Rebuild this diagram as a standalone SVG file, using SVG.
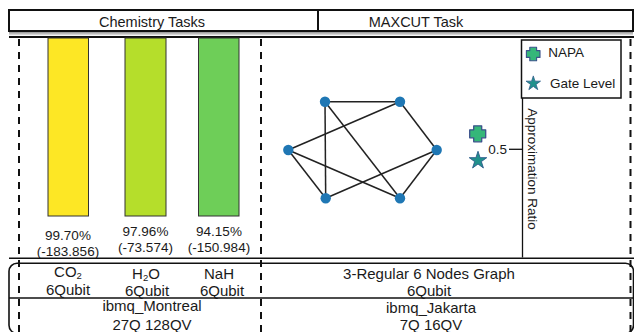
<svg xmlns="http://www.w3.org/2000/svg" xmlns:xlink="http://www.w3.org/1999/xlink" width="634" height="332" viewBox="0 0 634 332">
<style>
text{font-family:"Liberation Sans",Arial,sans-serif;fill:#1a1a1a}
.hd{font-size:14.5px;text-anchor:middle}
.lb{font-size:13.5px;text-anchor:middle}
.bt{font-size:15px;text-anchor:middle}
.frame{fill:none;stroke:#111;stroke-width:1.6}
.dash{stroke:#111;stroke-width:2;stroke-dasharray:7 6;fill:none}
.bar{stroke:#333;stroke-width:1}
.edge{stroke:#222;stroke-width:1.5}
.node{fill:#1f77b4}
.cross{fill:#35b779;stroke:#3b528b;stroke-width:1.3;stroke-linejoin:round}
.star{fill:#21918c;stroke:#2c5a8a;stroke-width:1;stroke-linejoin:round}
</style>
<defs>
<path id="plus" d="M-4,-8H4V-4H8V4H4V8H-4V4H-8V-4H-4Z"/>
<linearGradient id="shadow" x1="0" y1="0" x2="0" y2="1">
<stop offset="0" stop-color="#888"/>
<stop offset="1" stop-color="#eee"/>
</linearGradient>
</defs>
<rect width="634" height="332" fill="#fff"/>

<g id="header">
<rect x="9" y="31.5" width="624" height="4" fill="url(#shadow)"/>
<rect x="9" y="10" width="624" height="21" fill="#fff" stroke="#111" stroke-width="2"/>
<line x1="318" y1="10" x2="318" y2="31" stroke="#111" stroke-width="2"/>
<text class="hd" x="152" y="26.5">Chemistry Tasks</text>
<text class="hd" x="416" y="26.5">MAXCUT Task</text>
<line x1="9" y1="37" x2="634" y2="37" stroke="#111" stroke-width="2"/>
</g>

<g id="bars">
<rect class="bar" x="48" y="38" width="40.5" height="178" fill="#fde725"/>
<rect class="bar" x="125" y="38" width="41" height="178" fill="#b5de2b"/>
<rect class="bar" x="198.5" y="38" width="40.5" height="178" fill="#6ece58"/>
<text class="lb" x="68" y="240">99.70%</text>
<text class="lb" x="68" y="256">(-183.856)</text>
<text class="lb" x="145.5" y="236">97.96%</text>
<text class="lb" x="145.5" y="252">(-73.574)</text>
<text class="lb" x="219" y="236">94.15%</text>
<text class="lb" x="219" y="252">(-150.984)</text>
</g>

<g id="graph">
<g id="connectors">
<line class="edge" x1="325" y1="101.7" x2="400" y2="101.7"/>
<line class="edge" x1="325" y1="101.7" x2="325.7" y2="198.3"/>
<line class="edge" x1="325" y1="101.7" x2="400" y2="198.3"/>
<line class="edge" x1="400" y1="101.7" x2="288.3" y2="150"/>
<line class="edge" x1="400" y1="101.7" x2="436.7" y2="150"/>
<line class="edge" x1="288.3" y1="150" x2="325.7" y2="198.3"/>
<line class="edge" x1="288.3" y1="150" x2="400" y2="198.3"/>
<line class="edge" x1="436.7" y1="150" x2="325.7" y2="198.3"/>
<line class="edge" x1="436.7" y1="150" x2="400" y2="198.3"/>
</g>
<g id="n1"><circle class="node" cx="325" cy="101.7" r="5.2"/></g>
<g id="n2"><circle class="node" cx="400" cy="101.7" r="5.2"/></g>
<g id="n3"><circle class="node" cx="288.3" cy="150" r="5.2"/></g>
<g id="n4"><circle class="node" cx="436.7" cy="150" r="5.2"/></g>
<g id="n5"><circle class="node" cx="325.7" cy="198.3" r="5.2"/></g>
<g id="n6"><circle class="node" cx="400" cy="198.3" r="5.2"/></g>
</g>

<g id="plot">
<use xlink:href="#plus" href="#plus" class="cross" transform="translate(477.7,133.8)"/>
<path class="star" transform="translate(478,160.5) scale(0.92)" d="M0,-10L2.245,-3.09L9.51,-3.09L3.63,1.18L5.88,8.09L0,3.82L-5.88,8.09L-3.63,1.18L-9.51,-3.09L-2.245,-3.09Z"/>
<line x1="522.5" y1="98" x2="522.5" y2="257.5" stroke="#111" stroke-width="1.3"/>
<line x1="509" y1="149.3" x2="522.5" y2="149.3" stroke="#111" stroke-width="1.3"/>
<text x="507" y="154" font-size="13.5" text-anchor="end">0.5</text>
<text x="527.5" y="169" font-size="13.5" text-anchor="middle" transform="rotate(90 527.5 169)">Approximation Ratio</text>
</g>

<g id="legend">
<rect x="521.5" y="40" width="99.5" height="58" fill="#fff" stroke="#111" stroke-width="1.5"/>
<use xlink:href="#plus" href="#plus" class="cross" transform="translate(533.2,54) scale(0.85)"/>
<text x="548.3" y="56.5" font-size="13.5">NAPA</text>
<path class="star" transform="translate(533.3,83.5) scale(0.76)" d="M0,-10L2.245,-3.09L9.51,-3.09L3.63,1.18L5.88,8.09L0,3.82L-5.88,8.09L-3.63,1.18L-9.51,-3.09L-2.245,-3.09Z"/>
<text x="550" y="88" font-size="13.5">Gate Level</text>
</g>

<g id="dividers">
<line class="dash" x1="19" y1="39" x2="19" y2="332"/>
<line class="dash" x1="261" y1="39" x2="261" y2="332"/>
<line class="dash" x1="630.5" y1="39" x2="630.5" y2="332"/>
</g>

<g id="footer">
<line x1="9" y1="258.3" x2="634" y2="258.3" stroke="#111" stroke-width="1.6"/>
<rect class="frame" x="9" y="263.3" width="624.5" height="70" rx="8"/>
<line x1="9" y1="298" x2="634" y2="298" stroke="#111" stroke-width="1.6"/>
<text class="bt" x="68" y="277">CO<tspan font-size="9.5" dy="2">2</tspan></text>
<text class="bt" x="68" y="294.5">6Qubit</text>
<text class="bt" x="146" y="278.5">H<tspan font-size="9.5" dy="2">2</tspan><tspan dy="-2">O</tspan></text>
<text class="bt" x="147" y="296">6Qubit</text>
<text class="bt" x="219" y="278.5">NaH</text>
<text class="bt" x="222" y="296">6Qubit</text>
<text class="bt" x="152" y="311">ibmq_Montreal</text>
<text class="bt" x="152" y="329.5">27Q 128QV</text>
<text class="bt" x="429" y="279">3-Regular 6 Nodes Graph</text>
<text class="bt" x="429" y="296">6Qubit</text>
<text class="bt" x="431" y="312.5">ibmq_Jakarta</text>
<text class="bt" x="431" y="330">7Q 16QV</text>
</g>
</svg>
